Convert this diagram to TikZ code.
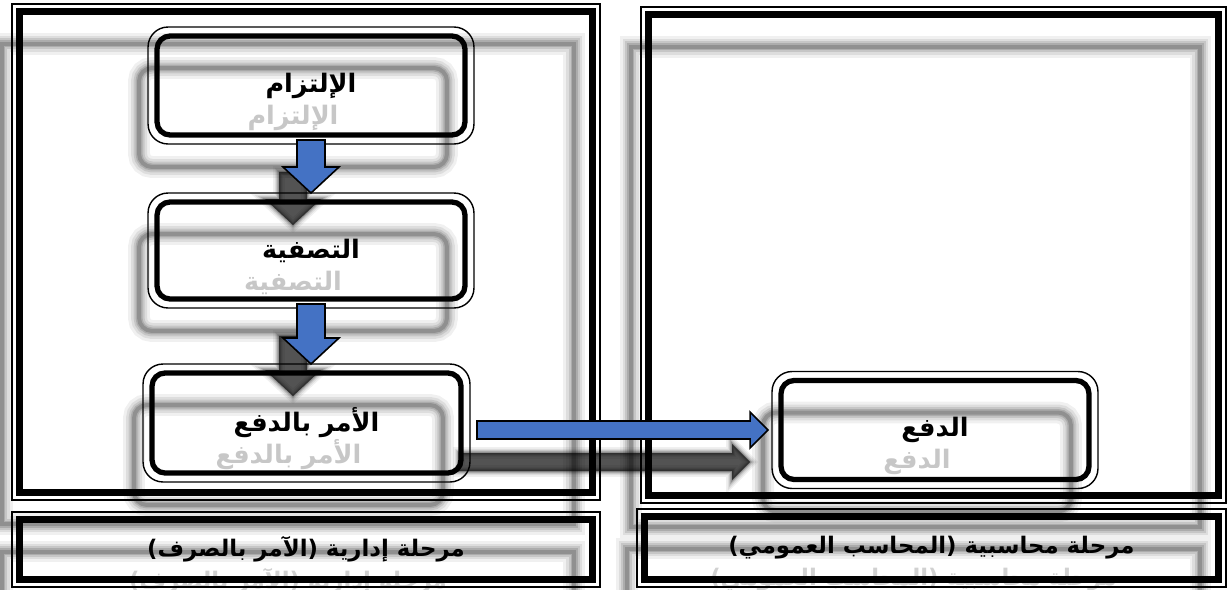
\documentclass[tikz,border=0pt]{standalone}
\usepackage{fontspec}
\usetikzlibrary{calc,backgrounds}
\newfontfamily\arabicfont[Script=Arabic]{DejaVu Sans}
\TeXXeTstate=1
\definecolor{arrowblue}{HTML}{4472C4}

\begin{document}
\begin{tikzpicture}[x=0.02cm,y=-0.02cm,
    frame/.style={draw,line width=0.7pt,inner sep=0pt,outer sep=0pt},
    stage/.style={draw,line width=0.8pt,rounded corners=0.4cm,inner sep=0pt,outer sep=0pt,
      font=\arabicfont\bfseries\fontsize{14.5}{16}\selectfont},
    phase/.style={font=\arabicfont\bfseries\fontsize{13}{15}\selectfont},
    heavy/.style={line width=3.9pt},
    heavybox/.style={line width=3pt,rounded corners=0.26cm},
    blockarrow/.style={draw=black,line width=0.9pt,fill=arrowblue,line join=miter}]
  \useasboundingbox (0,0) rectangle (1227,589);
  \node[frame,minimum width=11.76cm,minimum height=9.92cm] (adm) at (306,252) {};
  \node[frame,phase,minimum width=11.76cm,minimum height=1.5cm] (admlab) at (306,549.5)
    {\beginR مرحلة إدارية (الآمر بالصرف)\endR};
  \node[frame,minimum width=11.7cm,minimum height=9.92cm] (acc) at (933.5,255) {};
  \node[frame,phase,minimum width=11.78cm,minimum height=1.56cm] (acclab) at (931.5,548)
    {\beginR مرحلة محاسبية (المحاسب العمومي)\endR};
  \node[stage,minimum width=6.52cm,minimum height=2.34cm] (eng) at (311,85.5) {\beginR الإلتزام\endR};
  \node[stage,minimum width=6.52cm,minimum height=2.3cm] (liq) at (311,250.5) {\beginR التصفية\endR};
  \node[stage,minimum width=6.54cm,minimum height=2.36cm] (ord) at (306.5,423) {\beginR الأمر بالدفع\endR};
  \node[stage,minimum width=6.52cm,minimum height=2.34cm] (pay) at (935,430) {\beginR الدفع\endR};
  \foreach \n in {adm,admlab,acc,acclab}
    \draw[heavy] ([shift={(7.5,7.5)}]\n.north west) rectangle ([shift={(-7.5,-7.5)}]\n.south east);
  \foreach \n in {eng,liq,ord,pay}
    \draw[heavybox] ([shift={(9,9)}]\n.north west) rectangle ([shift={(-9,-9)}]\n.south east);
  \foreach \a/\b in {eng/liq,liq/ord}
    \draw[blockarrow] ($(\a.south)+(-14,-4)$) -- ($(\a.south |- \b.north)+(-14,-26)$) -- ($(\a.south |- \b.north)+(-28,-26)$)
      -- (\a.south |- \b.north) -- ($(\a.south |- \b.north)+(28,-26)$) -- ($(\a.south |- \b.north)+(14,-26)$) -- ($(\a.south)+(14,-4)$) -- cycle;
  \draw[blockarrow] ($(ord.east |- pay.west)+(7,-9)$) -- ($(pay.west)+(-22,-9)$) -- ($(pay.west)+(-22,-18)$)
    -- ($(pay.west)+(-4,0)$) -- ($(pay.west)+(-22,18)$) -- ($(pay.west)+(-22,9)$) -- ($(ord.east |- pay.west)+(7,9)$) -- cycle;
  \begin{scope}[on background layer]
  \begin{scope}[transform canvas={shift={(-0.36cm,-0.64cm)}}]
    \foreach \w/\o in {22/0.06,16/0.08,11/0.1,7/0.13,4/0.16} {
      \foreach \n in {adm,admlab,acc,acclab}
        \draw[line width=\w*0.567pt,draw opacity=\o] ([shift={(7.5,7.5)}]\n.north west) rectangle ([shift={(-7.5,-7.5)}]\n.south east);
      \foreach \n in {eng,liq,ord,pay}
        \draw[line width=\w*0.567pt,draw opacity=\o,rounded corners=0.26cm] ([shift={(9,9)}]\n.north west) rectangle ([shift={(-9,-9)}]\n.south east);
      \foreach \a/\b in {eng/liq,liq/ord}
        \draw[line width=\w*0.3pt,draw opacity=\o,fill=black,fill opacity=0.2] ($(\a.south)+(-14,-4)$) -- ($(\a.south |- \b.north)+(-14,-26)$) -- ($(\a.south |- \b.north)+(-28,-26)$)
          -- (\a.south |- \b.north) -- ($(\a.south |- \b.north)+(28,-26)$) -- ($(\a.south |- \b.north)+(14,-26)$) -- ($(\a.south)+(14,-4)$) -- cycle;
      \draw[line width=\w*0.3pt,draw opacity=\o,fill=black,fill opacity=0.2] ($(ord.east |- pay.west)+(7,-9)$) -- ($(pay.west)+(-22,-9)$) -- ($(pay.west)+(-22,-18)$)
        -- ($(pay.west)+(-4,0)$) -- ($(pay.west)+(-22,18)$) -- ($(pay.west)+(-22,9)$) -- ($(ord.east |- pay.west)+(7,9)$) -- cycle;
    }
    \node[stage,draw=none,text=black!22] at (eng) {\beginR الإلتزام\endR};
    \node[stage,draw=none,text=black!22] at (liq) {\beginR التصفية\endR};
    \node[stage,draw=none,text=black!22] at (ord) {\beginR الأمر بالدفع\endR};
    \node[stage,draw=none,text=black!22] at (pay) {\beginR الدفع\endR};
    \node[phase,text=black!18] at (admlab) {\beginR مرحلة إدارية (الآمر بالصرف)\endR};
    \node[phase,text=black!18] at (acclab) {\beginR مرحلة محاسبية (المحاسب العمومي)\endR};
  \end{scope}
  \end{scope}
\end{tikzpicture}
\end{document}
